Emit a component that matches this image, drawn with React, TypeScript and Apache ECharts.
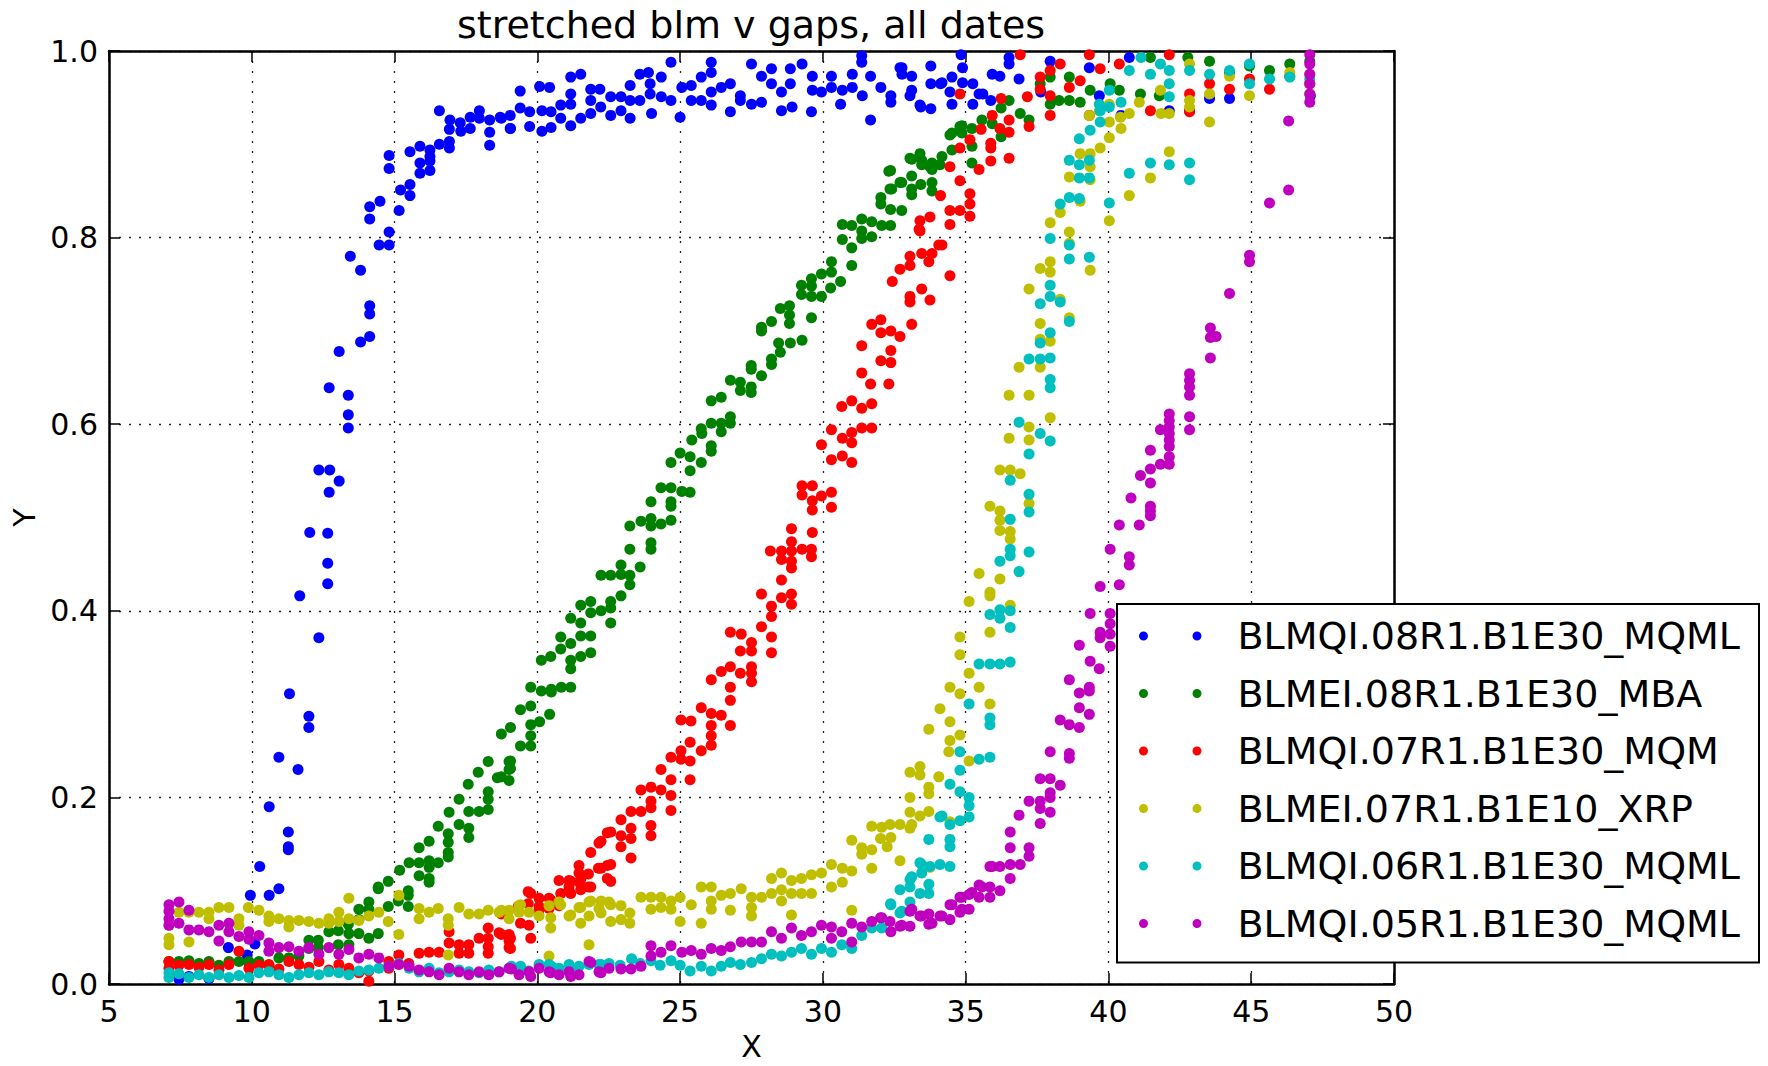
import React, { useEffect, useRef } from 'react';
import * as echarts from 'echarts';

const TITLE = 'stretched blm v gaps, all dates';
const X_NAME = 'X';
const Y_NAME = 'Y';
const X_TICKS = [5, 10, 15, 20, 25, 30, 35, 40, 45, 50];
const Y_TICK_LABELS = ['0.0', '0.2', '0.4', '0.6', '0.8', '1.0'];
const SERIES_NAMES = [
  'BLMQI.08R1.B1E30_MQML',
  'BLMEI.08R1.B1E30_MBA',
  'BLMQI.07R1.B1E30_MQM',
  'BLMEI.07R1.B1E10_XRP',
  'BLMQI.06R1.B1E30_MQML',
  'BLMQI.05R1.B1E30_MQML',
];
const SERIES_COLORS = ['#0000ff', '#008000', '#ff0000', '#bfbf00', '#00bfbf', '#bf00bf'];

const blmq08 = [
  [7.45,0.005],[7.8,0.008],[8.5,0.006],[9.18,0.039],[9.89,0.023],[9.84,0.031],[10.11,0.043],[9.95,0.095],[10.28,0.126],[10.61,0.095],[10.95,0.102],[10.61,0.19],[11.28,0.163],[11.28,0.147],[11.28,0.144],[10.95,0.243],[11.62,0.23],[11.32,0.311],[12.0,0.275],[12.0,0.287],[11.68,0.416],[12.35,0.371],[12.03,0.484],[12.66,0.483],[12.66,0.451],[12.66,0.429],
  [12.35,0.551],[12.73,0.551],[13.06,0.539],[12.71,0.527],[12.71,0.639],[13.38,0.631],[13.38,0.61],[13.38,0.596],[13.06,0.678],[13.81,0.688],[14.13,0.694],[14.13,0.727],[14.13,0.718],[13.45,0.78],[13.81,0.765],[14.13,0.833],[14.13,0.82],[14.49,0.839],[14.46,0.792],[14.81,0.792],[14.81,0.806],[14.81,0.888],[14.81,0.874],[15.16,0.829],[15.21,0.851],[15.54,0.857],[15.54,0.845],[15.54,0.892],[15.89,0.898],[15.89,0.88],[15.89,0.869],[16.24,0.894],[16.24,0.887],[16.24,0.882],[16.24,0.872],[16.57,0.9],[16.57,0.936],[16.92,0.903],[16.92,0.896],[16.94,0.926],[16.92,0.916],[17.3,0.923],[17.32,0.914],[17.65,0.929],[17.65,0.917],[17.97,0.936],[17.97,0.928],[18.33,0.926],[18.33,0.913],[18.33,0.899],[18.7,0.929],[19.05,0.931],[19.05,0.917],[19.4,0.957],[19.4,0.939],[19.73,0.935],[19.73,0.919],[20.08,0.962],[20.43,0.961],[20.16,0.936],[20.16,0.914],[20.48,0.935],[20.48,0.918],
  [18.74,0.928],[19.06,0.917],[20.82,0.942],[20.82,0.928],[21.17,0.972],[21.52,0.975],[21.17,0.954],[21.17,0.943],[21.17,0.92],[21.52,0.928],[21.87,0.959],[22.19,0.959],[21.87,0.947],[21.87,0.933],[22.22,0.94],[22.57,0.951],[22.57,0.931],[22.93,0.951],[22.93,0.936],[23.25,0.963],[23.25,0.947],[23.25,0.928],[23.59,0.975],[23.89,0.977],[23.59,0.947],[23.95,0.965],[23.95,0.954],[24.0,0.933],[24.34,0.972],[24.34,0.951],[24.68,0.988],[24.68,0.947],[25.0,0.929],[25.06,0.961],[25.39,0.963],[25.39,0.947],[25.74,0.972],[25.74,0.947],[26.09,0.988],[26.09,0.977],[26.09,0.956],[26.09,0.942],[26.44,0.961],[26.76,0.965],[26.76,0.935],[27.11,0.952],[27.11,0.947],[27.5,0.986],[27.5,0.943],[27.85,0.973],[27.85,0.945],[28.2,0.981],[28.2,0.965],[28.55,0.956],[28.55,0.936],[28.86,0.981],[28.86,0.965],[28.92,0.94],[29.27,0.986],[29.63,0.973],[29.63,0.958],[29.6,0.935],[29.95,0.956],[30.3,0.973],[30.3,0.961],[30.62,0.943],[30.68,0.958],[31.03,0.975],[31.03,0.961],[31.36,0.995],[31.36,0.988],[31.38,0.952],[31.67,0.973],[31.67,0.926],[32.03,0.961],[32.38,0.952],[32.38,0.945],[32.77,0.982],[32.77,0.975],[33.11,0.973],[33.11,0.958],[33.43,0.94],[33.78,0.984],[33.78,0.938],[33.78,0.965],[34.17,0.966],[34.52,0.972],[34.52,0.943],[34.84,0.996],[34.89,0.982],[34.89,0.966],[35.25,0.965],[35.25,0.943],[35.6,0.954],[35.93,0.975],
  [32.7,0.982],[33.05,0.952],[33.4,0.942],[34.12,0.965],[34.45,0.956],[35.47,0.954],[35.88,0.947],[36.2,0.973],[36.52,0.993],[36.52,0.986],[36.87,0.97],[37.63,0.956],[37.96,0.989],[39.33,0.982],[39.68,0.952],[40.44,0.931],[40.73,0.993],[42.13,0.936],[42.84,0.936],[43.54,0.949],[44.24,0.949],[47.07,0.952],
];

const blme08 = [
  [7.1,0.024],[7.45,0.024],[7.8,0.025],[8.15,0.022],[8.5,0.024],[8.85,0.02],[9.2,0.024],[9.55,0.024],[9.9,0.024],[10.25,0.024],[10.6,0.02],[10.95,0.028],[11.3,0.028],[11.65,0.03],[12.0,0.038],[12.0,0.047],[12.33,0.047],[12.33,0.039],[12.7,0.056],[13.03,0.057],[13.03,0.042],[13.38,0.064],[13.4,0.054],[13.4,0.042],[13.75,0.08],[13.75,0.069],[13.75,0.054],[14.1,0.088],[14.1,0.08],[14.1,0.049],[14.43,0.104],[14.43,0.102],[14.43,0.054],[14.78,0.11],[14.78,0.083],[15.13,0.089],[15.18,0.122],[15.48,0.1],[15.48,0.095],[15.48,0.083],[15.51,0.13],[15.86,0.146],[15.86,0.13],[15.86,0.116],[16.21,0.153],[16.21,0.132],[16.21,0.125],[16.21,0.113],[16.21,0.109],[16.53,0.169],[16.53,0.13],[16.88,0.161],[16.88,0.152],[16.88,0.141],[16.88,0.136],[16.91,0.184],[17.26,0.198],[17.26,0.171],[17.58,0.214],[17.6,0.185],[17.6,0.167],[17.6,0.157],[17.93,0.227],[17.96,0.185],[18.28,0.2385],[18.28,0.206],[18.28,0.198],[18.28,0.187],[18.6,0.221],[19.01,0.2385],[19.01,0.23],[19.01,0.218],
  [18.74,0.268],[18.74,0.222],[19.06,0.275],[19.06,0.239],[19.06,0.231],[19.41,0.294],[19.41,0.255],[19.77,0.318],[19.77,0.298],[19.77,0.278],[19.77,0.266],[19.77,0.255],[20.08,0.281],[20.14,0.347],[20.14,0.314],[20.43,0.289],[20.47,0.351],[20.49,0.316],[20.49,0.313],[20.82,0.372],[20.82,0.359],[20.84,0.318],[21.17,0.392],[21.17,0.365],[21.17,0.347],[21.17,0.338],[21.17,0.318],[21.52,0.406],[21.52,0.387],[21.52,0.373],[21.52,0.351],[21.87,0.41],[21.87,0.398],[21.87,0.373],[21.87,0.355],[22.23,0.438],[22.23,0.4],[22.57,0.438],[22.57,0.41],[22.57,0.403],[22.57,0.387],[22.93,0.449],[22.93,0.439],[22.93,0.416],[23.24,0.491],[23.24,0.466],[23.24,0.438],[23.24,0.428],[23.6,0.447],[23.63,0.496],[23.98,0.517],[23.98,0.499],[23.98,0.491],[23.98,0.473],[23.98,0.466],[24.33,0.532],[24.33,0.493],[24.68,0.559],[24.68,0.532],[24.68,0.517],[24.68,0.512],[24.68,0.497],[25.0,0.569],[25.06,0.528],[25.35,0.565],[25.35,0.55],[25.35,0.527],[25.41,0.583],[25.74,0.595],[25.76,0.59],[25.74,0.559],[26.09,0.625],[26.09,0.601],[26.09,0.577],[26.09,0.571],[26.44,0.629],[26.44,0.601],[26.44,0.592],[26.76,0.647],[26.76,0.608],[26.76,0.601],[27.11,0.645],[27.11,0.636],[27.49,0.663],[27.49,0.659],[27.49,0.64],[27.49,0.634],[27.85,0.704],[27.85,0.7],[27.85,0.652],[28.2,0.71],[28.2,0.67],[28.2,0.664],[28.45,0.687],[28.51,0.724],[28.51,0.677],[28.83,0.727],[28.83,0.717],[28.83,0.708],[28.86,0.687],[29.25,0.749],[29.25,0.739],[29.27,0.69],[29.6,0.756],[29.6,0.748],[29.6,0.737],[29.6,0.714],[29.95,0.761],[29.95,0.737],[30.27,0.746],[30.3,0.774],[30.3,0.763],[30.62,0.753],[30.68,0.814],[30.68,0.798],[31.01,0.813],[31.01,0.789],[31.01,0.77],[31.36,0.82],[31.36,0.807],[31.36,0.799],[31.71,0.817],[31.71,0.801],[32.03,0.843],[32.03,0.836],[32.06,0.813],[32.37,0.872],[32.41,0.852],[32.37,0.83],[32.37,0.813],[32.76,0.859],[32.76,0.829],[33.11,0.884],[33.11,0.866],[33.11,0.852],[33.11,0.846],[33.43,0.857],[33.46,0.883],[33.46,0.878],[33.82,0.88],[33.82,0.873],[33.82,0.859],[33.82,0.85],[34.17,0.887],[34.52,0.912],[34.52,0.894],[34.87,0.92],[34.87,0.912],[35.22,0.917],[35.22,0.898],[35.22,0.88],[35.57,0.926],[35.93,0.922],[36.24,0.939],[36.24,0.908],[36.52,0.947],[36.91,0.933],[37.22,0.926],[37.61,0.965],[37.96,0.972],[37.96,0.943],[38.27,0.947],[38.63,0.972],[38.63,0.947],[39.01,0.945],[39.36,0.958],[40.06,0.965],[40.38,0.958],[41.12,0.954],[41.47,0.993],[41.78,0.952],[42.78,0.993],[43.54,0.989],[44.24,0.977],[44.94,0.984],[45.64,0.979],[46.35,0.986],[47.05,0.989],
  [32.31,0.871],[32.35,0.852],[32.7,0.859],[33.05,0.885],[33.4,0.89],[33.75,0.876],[34.1,0.878],[34.45,0.91],[34.8,0.919],
];

const blmq07 = [
  [7.1,0.024],[7.1,0.017],[7.45,0.02],[7.8,0.021],[8.15,0.018],[8.5,0.021],[8.85,0.015],[9.2,0.021],[9.55,0.035],[9.9,0.017],[10.25,0.02],[10.6,0.021],[10.95,0.016],[11.3,0.024],[11.65,0.021],[12.0,0.018],[12.35,0.024],[12.7,0.015],[13.05,0.021],[13.4,0.017],[13.75,0.012],[14.1,0.014],[14.1,0.003],[14.8,0.024],[14.8,0.017],[15.15,0.031],[15.5,0.022],[15.86,0.033],[16.21,0.034],[16.56,0.034],[16.91,0.044],[16.91,0.056],[17.26,0.042],[17.26,0.033],[17.6,0.042],[17.6,0.033],[17.96,0.049],[18.28,0.06],[18.28,0.049],[18.28,0.04],[18.28,0.033],[18.66,0.055],[18.74,0.075],[18.74,0.053],[19.01,0.053],[19.01,0.046],[19.01,0.039],[19.06,0.049],[19.06,0.038],[19.33,0.083],[19.41,0.065],[19.68,0.099],[19.68,0.086],[19.71,0.063],[19.77,0.097],[19.77,0.049],[20.06,0.092],[20.06,0.083],[20.06,0.079],[20.41,0.092],[20.41,0.081],[20.47,0.09],[20.76,0.111],[20.76,0.084],[20.82,0.097],[21.11,0.111],[21.11,0.104],[21.17,0.11],[21.17,0.097],[21.46,0.127],[21.46,0.119],[21.46,0.109],[21.52,0.112],[21.52,0.101],[21.79,0.118],[21.79,0.104],[21.87,0.141],[21.87,0.104],[22.14,0.124],[22.16,0.151],[22.23,0.153],[22.23,0.124],[22.45,0.162],[22.45,0.127],[22.45,0.113],[22.57,0.163],[22.57,0.128],[22.57,0.11],[22.93,0.176],[22.93,0.159],[22.93,0.147],[23.28,0.185],[23.28,0.167],[23.28,0.156],[23.28,0.135],[23.63,0.208],[23.63,0.185],[23.98,0.211],[23.98,0.196],[23.98,0.189],[23.98,0.17],[23.98,0.159],[24.33,0.23],[24.33,0.208],[24.68,0.243],[24.68,0.219],[24.68,0.202],[24.68,0.186],[25.03,0.283],[25.03,0.25],[25.03,0.241],[25.35,0.259],[25.35,0.239],[25.35,0.219],[25.38,0.282],[25.74,0.296],[25.74,0.25],[26.09,0.326],[26.09,0.29],[26.09,0.277],[26.09,0.266],[26.09,0.256],[26.44,0.335],[26.44,0.288],[26.76,0.377],[26.76,0.34],[26.76,0.318],[26.76,0.304],[26.76,0.277],[27.11,0.357],[27.11,0.333],[27.14,0.375],[27.5,0.366],[27.5,0.357],[27.5,0.34],[27.5,0.333],[27.5,0.324],[27.85,0.418],[27.85,0.383],[28.16,0.464],[28.2,0.405],[28.2,0.394],[28.2,0.372],[28.2,0.355],[28.55,0.464],[28.55,0.455],[28.55,0.433],[28.55,0.414],[28.9,0.488],[28.9,0.474],[28.9,0.464],[28.9,0.453],[28.9,0.446],[28.9,0.418],[28.9,0.407],[29.27,0.534],[29.27,0.524],[29.27,0.466],[29.63,0.534],[29.63,0.518],[29.63,0.508],[29.63,0.484],[29.6,0.466],[29.6,0.458],[29.95,0.578],[29.95,0.523],[30.3,0.594],[30.3,0.562],[30.3,0.527],[30.3,0.511],[30.66,0.619],[30.68,0.585],[30.68,0.566],[31.01,0.625],[31.01,0.591],[31.01,0.58],[31.01,0.559],[31.36,0.684],[31.36,0.655],[31.36,0.617],[31.36,0.596],[31.67,0.643],[31.71,0.707],[31.71,0.622],[31.71,0.596],[32.03,0.712],[32.03,0.698],[32.03,0.668],[32.31,0.643],[32.38,0.7],[32.38,0.679],[32.38,0.666],[32.43,0.753],[32.7,0.766],[32.7,0.694],[33.05,0.78],[33.05,0.77],[33.05,0.737],[33.05,0.731],[33.11,0.707],[33.37,0.809],[33.4,0.818],[33.4,0.807],[33.46,0.783],[33.46,0.745],[33.71,0.774],[33.75,0.822],[33.75,0.733],[33.82,0.783],[34.06,0.792],[34.12,0.845],[34.17,0.792],[34.45,0.876],[34.45,0.829],[34.45,0.814],[34.45,0.759],[34.8,0.896],[34.8,0.861],[34.8,0.829],[34.8,0.954],[35.15,0.905],[35.15,0.847],[35.15,0.836],[35.15,0.823],[35.47,0.873],[35.54,0.916],[35.88,0.901],[35.88,0.896],[35.88,0.882],[35.93,0.931],[36.2,0.917],[36.24,0.949],[36.52,0.926],[36.52,0.913],[36.52,0.885],[36.91,0.996],[37.16,0.951],[37.22,0.919],[37.61,0.972],[37.61,0.959],[37.96,0.979],[37.96,0.952],[37.96,0.931],[38.31,0.986],[38.63,0.961],[39.01,0.968],[39.33,0.996],[39.33,0.931],[39.71,0.981],[40.38,0.986],[41.47,0.936],[42.13,0.996],[42.84,0.954],[42.84,0.935],[43.54,0.965],[44.24,0.959],[44.94,0.97],[45.64,0.959],[46.35,0.973],[47.05,0.965],
];

const blme07 = [
  [7.1,0.063],[7.1,0.049],[7.1,0.042],[7.45,0.077],[7.8,0.077],[7.8,0.045],[8.15,0.077],[8.5,0.077],[8.5,0.07],[8.85,0.082],[9.2,0.082],[9.55,0.07],[9.55,0.063],[9.88,0.082],[10.25,0.079],[10.6,0.073],[10.6,0.067],[10.95,0.07],[11.3,0.068],[11.3,0.061],[11.65,0.068],[12.0,0.067],[12.35,0.065],[12.7,0.07],[12.7,0.065],[13.05,0.077],[13.05,0.067],[13.4,0.092],[13.4,0.07],[13.75,0.068],[14.1,0.073],[14.45,0.077],[14.78,0.067],[15.15,0.095],[15.15,0.053],[15.86,0.081],[15.86,0.07],[16.21,0.077],[16.53,0.081],[16.88,0.07],[16.88,0.063],[16.88,0.031],[17.26,0.082],[17.6,0.075],[17.96,0.075],[18.28,0.079],[18.66,0.077],[18.74,0.079],[19.01,0.079],[19.01,0.07],[19.36,0.084],[19.36,0.077],[19.41,0.085],[19.71,0.077],[20.06,0.073],[20.41,0.084],[20.41,0.03],[20.47,0.071],[20.47,0.06],[20.76,0.088],[20.82,0.085],[21.11,0.073],[21.17,0.074],[21.46,0.082],[21.52,0.082],[21.52,0.065],[21.81,0.088],[21.81,0.073],[21.81,0.042],[21.87,0.089],[22.16,0.081],[22.23,0.089],[22.23,0.076],[22.51,0.088],[22.57,0.085],[22.57,0.067],[22.93,0.084],[22.93,0.069],[23.24,0.076],[23.24,0.065],[23.63,0.093],[23.98,0.093],[23.98,0.08],[24.33,0.093],[24.33,0.082],[24.68,0.089],[24.68,0.08],[25.0,0.093],[25.0,0.067],[25.39,0.085],[25.74,0.104],[25.74,0.065],[26.09,0.104],[26.09,0.089],[26.09,0.08],[26.44,0.095],[26.76,0.097],[26.76,0.079],[27.14,0.102],[27.5,0.093],[27.5,0.082],[27.5,0.073],[27.85,0.093],[28.2,0.113],[28.2,0.097],[28.55,0.119],[28.55,0.101],[28.55,0.089],[28.9,0.111],[28.9,0.097],[28.9,0.074],[29.25,0.113],[29.25,0.097],[29.6,0.117],[29.6,0.097],[29.95,0.119],[30.3,0.128],[30.3,0.104],[30.68,0.124],[30.68,0.109],[31.01,0.154],[31.01,0.121],[31.01,0.079],[31.36,0.146],[31.36,0.139],[31.71,0.169],[31.71,0.144],[31.71,0.124],[32.02,0.156],[32.06,0.168],[32.25,0.147],[32.35,0.171],[32.38,0.157],[32.7,0.171],[32.7,0.132],[33.05,0.227],[33.05,0.2],[33.05,0.184],[33.05,0.167],[33.11,0.171],[33.4,0.233],[33.4,0.224],[33.4,0.18],[33.71,0.273],[33.71,0.211],[33.71,0.204],[33.71,0.185],[33.75,0.125],[34.06,0.222],[34.1,0.295],[34.45,0.318],[34.45,0.281],[34.45,0.261],[34.41,0.249],[34.45,0.174],[34.8,0.372],[34.8,0.353],[34.8,0.311],[34.8,0.267],[35.12,0.41],[35.12,0.333],[35.12,0.239],[35.47,0.44],[35.47,0.318],[35.85,0.512],[35.85,0.42],[35.85,0.416],[35.85,0.377],[35.85,0.3],[36.2,0.551],[36.2,0.507],[36.2,0.497],[36.2,0.486],[36.2,0.434],[36.56,0.551],[36.56,0.485],[36.56,0.477],[36.56,0.406],[36.52,0.631],[36.52,0.585],[36.87,0.661],[36.91,0.547],[37.22,0.745],[37.22,0.631],[37.22,0.597],[37.22,0.583],[37.22,0.515],[37.61,0.767],[37.61,0.708],[37.61,0.691],[37.61,0.661],[37.96,0.816],[37.96,0.774],[37.96,0.763],[37.96,0.689],[37.96,0.607],[38.31,0.827],[38.31,0.734],[38.63,0.865],[38.63,0.806],[38.63,0.794],[38.63,0.714],[39.01,0.89],[39.01,0.839],[39.33,0.931],[39.36,0.89],[39.36,0.876],[39.36,0.862],[39.36,0.765],[39.68,0.936],[39.71,0.896],[40.03,0.943],[40.03,0.924],[40.03,0.907],[40.03,0.818],[40.42,0.929],[40.44,0.917],[40.73,0.933],[40.73,0.845],[41.08,0.945],[41.47,0.864],[41.82,0.958],[41.84,0.933],[42.13,0.933],[42.13,0.892],[42.84,0.986],[42.84,0.947],[42.84,0.94],[43.54,0.954],[43.54,0.924],[44.24,0.973],[44.94,0.952],[46.35,0.977],[47.05,0.975],[47.05,0.965],[47.05,0.954],
];

const blmq06 = [
  [7.1,0.007],[7.1,0.012],[7.45,0.011],[7.8,0.007],[8.15,0.01],[8.5,0.007],[8.85,0.01],[9.2,0.007],[9.55,0.009],[9.9,0.007],[10.25,0.012],[10.6,0.013],[10.95,0.01],[11.3,0.007],[11.65,0.01],[12.0,0.012],[12.35,0.01],[12.7,0.013],[13.05,0.012],[13.4,0.01],[13.75,0.014],[14.1,0.015],[14.45,0.017],[14.8,0.019],[15.15,0.022],[15.51,0.017],[15.86,0.013],[16.21,0.017],[16.56,0.012],[16.91,0.013],[17.26,0.015],[17.6,0.013],[17.96,0.012],[18.3,0.015],[18.66,0.013],[19.01,0.017],[19.09,0.019],[19.41,0.019],[19.7,0.014],[20.06,0.021],[20.41,0.021],[20.49,0.019],[20.76,0.017],[21.11,0.021],[21.17,0.017],[21.46,0.019],[21.81,0.021],[22.16,0.021],[22.23,0.021],[22.51,0.022],[22.9,0.02],[23.3,0.027],[23.6,0.022],[23.98,0.025],[24.3,0.02],[24.68,0.025],[25.0,0.02],[25.35,0.014],[25.74,0.019],[26.09,0.014],[26.44,0.019],[26.76,0.023],[27.11,0.021],[27.5,0.023],[27.85,0.027],[28.2,0.032],[28.55,0.03],[28.9,0.034],[29.25,0.038],[29.6,0.032],[29.95,0.038],[30.3,0.034],[30.66,0.042],[31.01,0.038],[31.36,0.052],[31.71,0.06],[32.06,0.06],[32.37,0.086],[32.38,0.085],[32.7,0.101],[32.7,0.076],[32.76,0.078],[33.05,0.112],[33.05,0.104],[33.05,0.088],[33.11,0.115],[33.4,0.13],[33.4,0.097],[33.46,0.128],[33.46,0.119],[33.71,0.155],[33.71,0.107],[33.71,0.097],[33.75,0.126],[34.1,0.179],[34.1,0.128],[34.17,0.18],[34.45,0.214],[34.45,0.171],[34.45,0.155],[34.45,0.147],[34.45,0.126],[34.8,0.249],[34.8,0.229],[34.8,0.206],[34.8,0.175],[35.12,0.3],[35.12,0.2],[35.12,0.191],[35.12,0.179],[35.47,0.343],[35.47,0.241],[35.85,0.396],[35.85,0.343],[35.85,0.285],[35.85,0.278],[35.85,0.243],[36.2,0.453],[36.2,0.401],[36.2,0.392],[36.2,0.343],[36.56,0.54],[36.56,0.498],[36.56,0.466],[36.56,0.459],[36.56,0.4],[36.56,0.382],[36.56,0.345],[36.87,0.602],[36.87,0.442],[37.22,0.67],[37.22,0.568],[37.22,0.525],[37.22,0.506],[37.22,0.463],[37.61,0.729],[37.61,0.687],[37.61,0.67],[37.61,0.59],[37.96,0.799],[37.96,0.749],[37.96,0.737],[37.96,0.698],[37.96,0.671],[37.96,0.648],[37.96,0.639],[37.96,0.582],[38.31,0.836],[38.31,0.731],[38.63,0.883],[38.63,0.843],[38.63,0.792],[38.63,0.777],[38.63,0.71],[38.98,0.906],[38.98,0.878],[38.98,0.864],[38.98,0.842],[39.33,0.883],[39.33,0.864],[39.33,0.779],[39.36,0.915],[39.68,0.943],[39.71,0.936],[39.71,0.924],[40.03,0.958],[40.03,0.94],[40.03,0.837],[40.44,0.945],[40.73,0.979],[40.73,0.869],[41.14,0.993],[41.47,0.975],[41.47,0.88],[41.82,0.986],[42.13,0.979],[42.13,0.965],[42.13,0.951],[42.13,0.878],[42.84,0.979],[42.84,0.88],[42.84,0.862],[43.54,0.975],[44.24,0.979],[44.94,0.986],[44.94,0.965],[45.64,0.97],[46.35,0.972],[47.05,0.97],
];

const blmq05 = [
  [7.1,0.085],[7.1,0.078],[7.1,0.07],[7.1,0.063],[7.45,0.088],[7.45,0.065],[7.8,0.079],[7.8,0.058],[8.15,0.058],[8.5,0.056],[8.85,0.063],[8.85,0.046],[9.2,0.065],[9.2,0.056],[9.55,0.051],[9.9,0.056],[9.9,0.048],[10.25,0.052],[10.6,0.044],[10.6,0.035],[10.95,0.039],[11.3,0.04],[11.65,0.035],[12.0,0.039],[12.35,0.032],[12.7,0.039],[13.05,0.032],[13.4,0.037],[13.75,0.028],[14.1,0.032],[14.45,0.028],[14.8,0.019],[15.15,0.021],[15.51,0.019],[15.86,0.015],[16.21,0.013],[16.56,0.01],[16.91,0.017],[17.26,0.013],[17.6,0.01],[17.96,0.013],[18.3,0.01],[18.66,0.013],[19.01,0.017],[19.09,0.016],[19.36,0.01],[19.71,0.013],[19.77,0.008],[20.06,0.017],[20.41,0.013],[20.47,0.012],[20.76,0.01],[21.11,0.013],[21.17,0.008],[21.46,0.01],[21.81,0.024],[21.87,0.023],[22.16,0.013],[22.23,0.012],[22.51,0.017],[22.93,0.016],[23.28,0.016],[23.63,0.019],[23.98,0.041],[23.98,0.03],[24.33,0.034],[24.68,0.041],[25.06,0.034],[25.39,0.036],[25.74,0.032],[26.09,0.038],[26.44,0.036],[26.76,0.04],[27.14,0.045],[27.5,0.045],[27.85,0.045],[28.2,0.056],[28.55,0.049],[28.9,0.06],[29.25,0.052],[29.6,0.056],[29.95,0.063],[30.3,0.061],[30.3,0.049],[30.66,0.056],[31.01,0.065],[31.01,0.045],[31.36,0.061],[31.71,0.067],[32.02,0.071],[32.06,0.071],[32.35,0.067],[32.38,0.056],[32.7,0.062],[32.76,0.063],[33.05,0.078],[33.05,0.062],[33.11,0.08],[33.4,0.073],[33.46,0.073],[33.71,0.075],[33.71,0.064],[33.82,0.065],[34.1,0.073],[34.17,0.073],[34.45,0.085],[34.45,0.069],[34.52,0.085],[34.8,0.093],[34.8,0.077],[34.87,0.093],[34.87,0.08],[35.12,0.096],[35.12,0.08],[35.22,0.098],[35.47,0.106],[35.47,0.093],[35.57,0.104],[35.85,0.126],[35.85,0.104],[35.85,0.093],[35.93,0.126],[36.2,0.126],[36.2,0.1],[36.56,0.163],[36.56,0.146],[36.56,0.128],[36.56,0.113],[36.87,0.181],[36.91,0.128],[37.22,0.196],[37.22,0.146],[37.22,0.137],[37.61,0.22],[37.61,0.196],[37.61,0.188],[37.61,0.172],[37.96,0.249],[37.96,0.22],[37.96,0.205],[37.96,0.2],[37.96,0.184],[38.31,0.283],[38.31,0.213],[38.63,0.326],[38.63,0.278],[38.63,0.247],[38.63,0.242],[38.98,0.363],[38.98,0.312],[38.98,0.296],[38.98,0.275],[39.33,0.318],[39.33,0.314],[39.33,0.289],[39.36,0.397],[39.36,0.346],[39.68,0.338],[39.71,0.426],[39.71,0.377],[39.71,0.371],[40.06,0.466],[40.06,0.397],[40.06,0.386],[40.06,0.375],[40.06,0.362],[40.38,0.492],[40.38,0.428],[40.73,0.458],[40.73,0.449],[40.79,0.521],[41.08,0.492],[41.12,0.545],[41.47,0.572],[41.47,0.552],[41.47,0.537],[41.47,0.512],[41.47,0.507],[41.47,0.502],[41.82,0.594],[41.82,0.557],[42.13,0.611],[42.13,0.604],[42.13,0.597],[42.13,0.59],[42.13,0.583],[42.13,0.576],[42.13,0.565],[42.13,0.557],[42.84,0.654],[42.84,0.647],[42.84,0.64],[42.84,0.631],[42.84,0.608],[42.84,0.594],[43.57,0.703],[43.57,0.693],[43.77,0.694],[43.57,0.671],[44.24,0.74],[44.94,0.781],[44.94,0.774],[45.64,0.837],[46.31,0.851],[46.31,0.925],[47.05,0.996],[47.05,0.986],[47.05,0.975],[47.05,0.965],[47.05,0.954],[47.05,0.945],
];

const SERIES_DATA = [blmq08, blme08, blmq07, blme07, blmq06, blmq05];

const FONT = 'DejaVu Sans';
const LEGEND_ICON =
  'path://M0,4.5a4.5,4.5 0 1,0 9,0a4.5,4.5 0 1,0 -9,0zM53.5,4.5a4.5,4.5 0 1,0 9,0a4.5,4.5 0 1,0 -9,0z';

export default function App() {
  const ref = useRef<HTMLDivElement>(null);

  useEffect(() => {
    if (!ref.current) return;
    const chart = echarts.init(ref.current, null, { renderer: 'svg' });

    const tickStyle = { show: true, inside: true, length: 11, lineStyle: { color: '#000', width: 1.5 } };
    const lineStyle = { show: true, onZero: false, lineStyle: { color: '#000', width: 2.5 } };
    const gridLine = { show: true, lineStyle: { color: '#222', width: 1.3, type: [2, 8] as any } };
    const labelStyle = { color: '#000', fontSize: 30, fontFamily: FONT };

    const option: any = {
      animation: false,
      backgroundColor: '#ffffff',
      title: {
        text: TITLE,
        left: 452,
        top: 1,
        textStyle: { fontSize: 38, fontWeight: 'normal', fontFamily: FONT, color: '#000' },
      },
      grid: { left: 109, top: 51, width: 1285, height: 942, containLabel: false },
      legend: {
        orient: 'vertical',
        left: 1117,
        top: 604,
        padding: [10, 19, 17, 22],
        itemWidth: 62.5,
        itemHeight: 9,
        itemGap: 13.5,
        icon: LEGEND_ICON,
        selectedMode: false,
        backgroundColor: '#ffffff',
        borderColor: '#000',
        borderWidth: 2,
        z: 10,
        data: SERIES_NAMES,
        textStyle: {
          fontSize: 38,
          fontFamily: FONT,
          color: '#000',
          lineHeight: 44,
          padding: [0, 0, 0, 31],
        },
      },
      xAxis: [
        {
          type: 'value',
          min: X_TICKS[0],
          max: X_TICKS[X_TICKS.length - 1],
          interval: 5,
          position: 'bottom',
          name: X_NAME,
          nameLocation: 'middle',
          nameGap: 47,
          nameTextStyle: { color: '#000', fontSize: 30, fontFamily: FONT },
          axisLine: lineStyle,
          axisTick: tickStyle,
          axisLabel: { ...labelStyle, margin: 12, formatter: (v: number) => String(v) },
          splitLine: gridLine,
        },
        {
          type: 'value',
          min: X_TICKS[0],
          max: X_TICKS[X_TICKS.length - 1],
          interval: 5,
          position: 'top',
          axisLine: lineStyle,
          axisTick: tickStyle,
          axisLabel: { show: false },
          splitLine: { show: false },
        },
      ],
      yAxis: [
        {
          type: 'value',
          min: 0,
          max: 1,
          interval: 0.2,
          position: 'left',
          name: Y_NAME,
          nameLocation: 'middle',
          nameGap: 67,
          nameTextStyle: { color: '#000', fontSize: 30, fontFamily: FONT },
          axisLine: lineStyle,
          axisTick: tickStyle,
          axisLabel: {
            ...labelStyle,
            margin: 11,
            formatter: (v: number) => Y_TICK_LABELS[Math.round(v / 0.2)] ?? v.toFixed(1),
          },
          splitLine: gridLine,
        },
        {
          type: 'value',
          min: 0,
          max: 1,
          interval: 0.2,
          position: 'right',
          axisLine: lineStyle,
          axisTick: tickStyle,
          axisLabel: { show: false },
          splitLine: { show: false },
        },
      ],
      series: SERIES_NAMES.map((name, i) => ({
        name,
        type: 'scatter',
        xAxisIndex: 0,
        yAxisIndex: 0,
        symbol: 'circle',
        symbolSize: 11,
        itemStyle: { color: SERIES_COLORS[i], opacity: 1 },
        emphasis: { disabled: true },
        data: SERIES_DATA[i],
      })),
    };

    chart.setOption(option);
    return () => chart.dispose();
  }, []);

  return (
    <div
      ref={ref}
      style={{ position: 'absolute', left: 0, top: 0, width: 1768, height: 1066, background: '#fff' }}
    />
  );
}
